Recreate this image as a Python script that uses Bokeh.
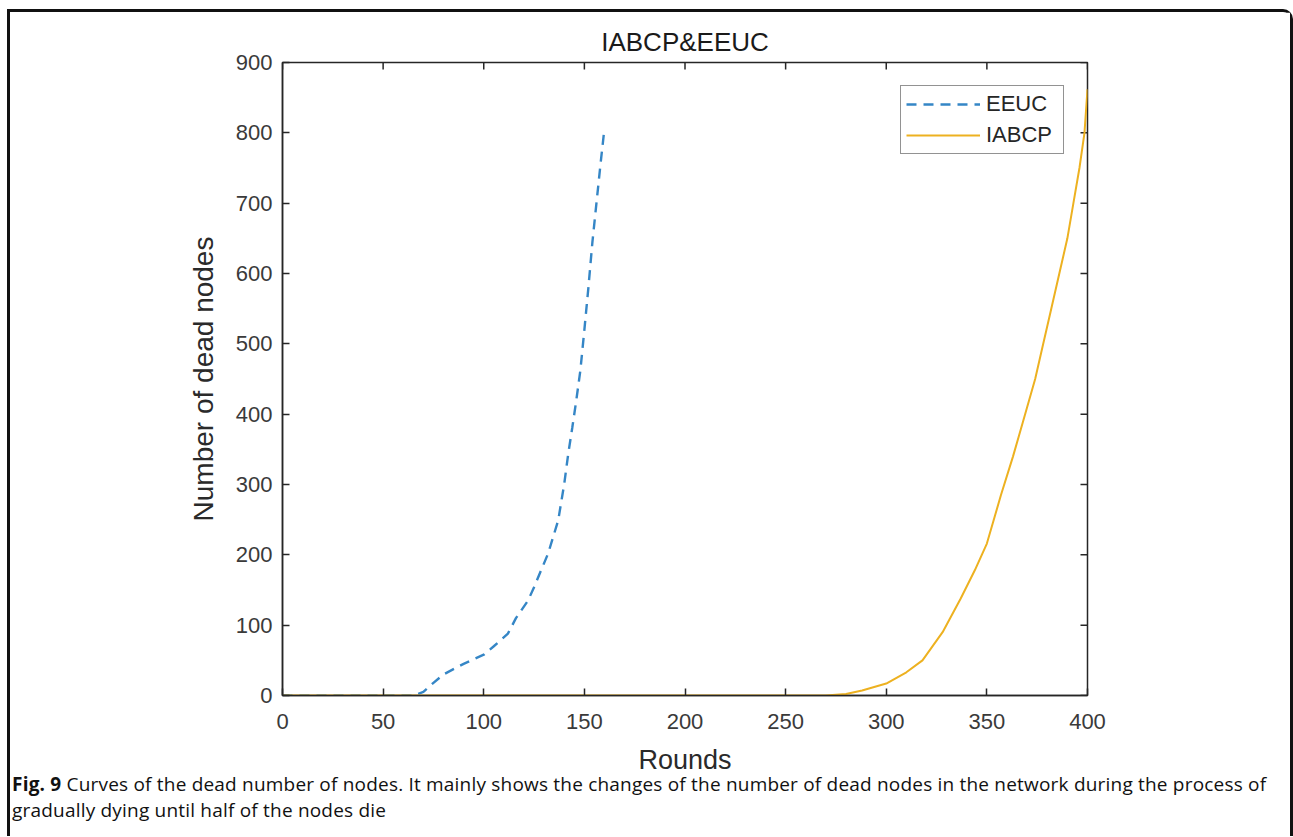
import math

from bokeh.plotting import figure
from bokeh.layouts import column
from bokeh.models import Legend, LegendItem, FixedTicker, Range1d, Div, Title
from bokeh.embed import file_html
from bokeh.resources import INLINE

# Dead nodes per round for each protocol
rounds_eeuc = [0, 65, 70, 75, 80, 90, 100, 105, 112, 116, 122, 125, 132, 137,
               140, 142, 144, 146, 148, 150, 152, 154, 156, 158, 160]
dead_eeuc = [0, 0, 5, 18, 30, 45, 58, 70, 88, 110, 135, 154, 202, 249,
             301, 344, 381, 420, 462, 520, 580, 645, 700, 755, 807]

rounds_iabcp = [0, 270, 280, 288, 300, 310, 318, 328, 337, 344, 350, 357, 363,
                369, 374, 378, 382, 386, 390, 393, 396, 398.5, 400]
dead_iabcp = [0, 0, 2, 7, 17, 33, 50, 90, 138, 178, 216, 285, 340,
              400, 450, 500, 550, 600, 650, 700, 750, 800, 862]

x_ticks = [0, 50, 100, 150, 200, 250, 300, 350, 400]
y_ticks = [0, 100, 200, 300, 400, 500, 600, 700, 800, 900]

series_names = ["EEUC", "IABCP"]
chart_title = "IABCP&EEUC"
x_title = "Rounds"
y_title = "Number of dead nodes"
caption_bold = "Fig. 9"
caption_line1 = ("Curves of the dead number of nodes. It mainly shows the changes of the "
                 "number of dead nodes in the network during the process of")
caption_line2 = "gradually dying until half of the nodes die"

X_MIN, X_MAX = 0, 400
Y_MIN, Y_MAX = 0, 900

# canvas inside the boxed figure panel
W, H = 1280, 788
FL, FR, FT, FB = 272, 1077, 50, 683   # plot frame edges on the canvas

AX = "#262626"
FONT = "Liberation Sans"

p = figure(width=W, height=H, x_range=Range1d(X_MIN, X_MAX), y_range=Range1d(Y_MIN, Y_MAX),
           output_backend="svg", toolbar_location=None,
           min_border_left=FL, min_border_right=W - FR,
           min_border_top=FT, min_border_bottom=H - FB,
           background_fill_color="white", border_fill_color="white")
p.outline_line_color = AX
p.outline_line_width = 1.5
p.grid.visible = False

p.xaxis.ticker = FixedTicker(ticks=x_ticks)
p.yaxis.ticker = FixedTicker(ticks=y_ticks)
for ax in p.axis:
    ax.axis_line_color = AX
    ax.axis_line_width = 1.5
    ax.major_tick_line_color = AX
    ax.major_tick_line_width = 1.5
    ax.major_tick_in = 7
    ax.major_tick_out = 0
    ax.minor_tick_line_color = None
    ax.major_label_text_font = FONT
    ax.major_label_text_color = "#3a3a3a"
    ax.major_label_text_font_size = "22px"
    ax.axis_label_text_font = FONT
    ax.axis_label_text_font_style = "normal"
    ax.axis_label_text_color = "#2a2a2a"
p.xaxis.major_label_standoff = 18
p.yaxis.major_label_standoff = 10
p.xaxis.axis_label = x_title
p.yaxis.axis_label = y_title
p.xaxis.axis_label_text_font_size = "27px"
p.yaxis.axis_label_text_font_size = "28px"
p.xaxis.axis_label_standoff = 13
p.yaxis.axis_label_standoff = 14

# inward ticks on the top and right edges of the box (half of each dash is clipped)
p.scatter(x=x_ticks, y=[Y_MAX] * len(x_ticks), marker="dash", size=14,
          angle=math.pi / 2, line_color=AX, line_width=1.5)
p.scatter(x=[X_MAX] * len(y_ticks), y=y_ticks, marker="dash", size=14,
          line_color=AX, line_width=1.5)

r1 = p.line(rounds_eeuc, dead_eeuc, line_color="#3586c6", line_width=2.4,
            line_dash="10 7")
r2 = p.line(rounds_iabcp, dead_iabcp, line_color="#EDB120", line_width=2)

legend = Legend(items=[LegendItem(label=series_names[0], renderers=[r1]),
                       LegendItem(label=series_names[1], renderers=[r2])],
                location="top_right", margin=23, padding=5, spacing=5,
                glyph_width=74, glyph_height=20, label_standoff=6,
                label_text_font=FONT, label_text_font_size="22px",
                label_text_color="#262626", label_height=20, label_width=72,
                border_line_color=AX, border_line_width=1.5,
                background_fill_color="white", background_fill_alpha=1)
p.add_layout(legend, "center")

p.title = Title(text=chart_title, align="center", vertical_align="middle",
                text_font=FONT, text_font_size="26px", text_font_style="normal",
                text_color="#1a1a1a")

caption_html = (
    '<div style="font-family: \'Open Sans\', sans-serif; font-size: 19px; '
    'letter-spacing: 0.2px; line-height: 26px; color: #111; white-space: nowrap; '
    'margin-left: -3px;">'
    f'<span style="font-weight: 700;">{caption_bold}</span> {caption_line1}<br>'
    f'{caption_line2}</div>'
)
caption = Div(text=caption_html, width=W - 10, height=60,
              styles={"margin-top": "-29px", "padding-left": "0px"})

page = column(p, caption,
              styles={"margin-left": "7px", "margin-top": "9px",
                      "border-top": "3px solid #111", "border-left": "3px solid #111",
                      "border-right": "3px solid #111",
                      "border-top-right-radius": "10px"})

open("out.html", "w").write(file_html(page, INLINE))
